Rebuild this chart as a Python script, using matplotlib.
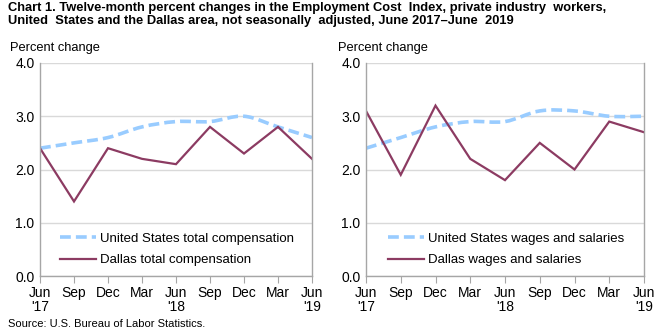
import matplotlib
matplotlib.use("Agg")
import matplotlib.pyplot as plt
from matplotlib.path import Path
from matplotlib.patches import PathPatch
from matplotlib.lines import Line2D
import numpy as np

plt.rcParams['font.family'] = ['Liberation Sans', 'DejaVu Sans']

months = ["Jun\n'17", "Sep", "Dec", "Mar", "Jun\n'18", "Sep", "Dec", "Mar", "Jun\n'19"]
us_total = [2.4, 2.5, 2.6, 2.8, 2.9, 2.9, 3.0, 2.8, 2.6]
dallas_total = [2.4, 1.4, 2.4, 2.2, 2.1, 2.8, 2.3, 2.8, 2.2]
us_wages = [2.4, 2.6, 2.8, 2.9, 2.9, 3.1, 3.1, 3.0, 3.0]
dallas_wages = [3.1, 1.9, 3.2, 2.2, 1.8, 2.5, 2.0, 2.9, 2.7]

US_COLOR = '#99CCFF'
DAL_COLOR = '#8C3B62'
GRID = '#D9D9D9'
SPINE = '#A6A6A6'


def smooth_path(xs, ys):
    pts = np.column_stack([xs, ys]).astype(float)
    n = len(pts)
    verts = [pts[0]]
    codes = [Path.MOVETO]
    for i in range(n - 1):
        p0 = pts[i - 1] if i > 0 else pts[i]
        p1 = pts[i]
        p2 = pts[i + 1]
        p3 = pts[i + 2] if i + 2 < n else pts[i + 1]
        c1 = p1 + (p2 - p0) / 6.0
        c2 = p2 - (p3 - p1) / 6.0
        verts += [c1, c2, p2]
        codes += [Path.CURVE4] * 3
    return Path(verts, codes)


fig = plt.figure(figsize=(6.65, 3.35), dpi=100)

fig.text(8 / 665, 1 - 2 / 335,
         "Chart 1. Twelve-month percent changes in the Employment Cost  Index, private industry  workers,\n"
         "United  States and the Dallas area, not seasonally  adjusted, June 2017\u2013June  2019",
         ha='left', va='top', fontsize=9.3, fontweight='bold',
         family=['Liberation Sans Narrow', 'Liberation Sans', 'DejaVu Sans'],
         linespacing=1.15)

panels = [
    (40, 272, us_total, dallas_total, "United States total compensation", "Dallas total compensation", 10, 60),
    (366, 278, us_wages, dallas_wages, "United States wages and salaries", "Dallas wages and salaries", 338, 388),
]

for left, width, us, dal, us_lab, dal_lab, pc_x, leg_x in panels:
    ax = fig.add_axes([left / 665, (335 - 276) / 335, width / 665, 213 / 335])
    x = np.arange(len(months))
    ax.set_xlim(0, len(months) - 1)
    ax.set_ylim(0, 4.0)
    ax.set_yticks([0, 1, 2, 3, 4])
    ax.set_yticklabels(["0.0", "1.0", "2.0", "3.0", "4.0"], fontsize=10)
    ax.set_xticks(x)
    ax.set_xticklabels(months, fontsize=10, linespacing=1.0)
    ax.grid(axis='y', color=GRID, linewidth=1.0)
    ax.set_axisbelow(True)
    ax.spines['top'].set_visible(False)
    for s in ['left', 'right', 'bottom']:
        ax.spines[s].set_color(SPINE)
        ax.spines[s].set_linewidth(1.0)
    ax.tick_params(axis='y', length=0, pad=4)
    ax.tick_params(axis='x', direction='out', length=5, color=SPINE, pad=2)

    patch = PathPatch(smooth_path(x, us), fill=False, edgecolor=US_COLOR,
                      linewidth=2.6, linestyle=(0, (3.0, 1.4)), capstyle='butt')
    ax.add_patch(patch)
    ax.plot(x, dal, color=DAL_COLOR, linewidth=1.6, solid_joinstyle='miter')

    handles = [Line2D([], [], color=US_COLOR, linewidth=2.6, linestyle=(0, (3.0, 1.4))),
               Line2D([], [], color=DAL_COLOR, linewidth=1.6)]
    ax.legend(handles, [us_lab, dal_lab], loc='lower left',
              bbox_to_anchor=((leg_x - left) / width, 0.045),
              frameon=False, fontsize=9.5, handlelength=2.75, handletextpad=0.25,
              labelspacing=0.72, borderpad=0, borderaxespad=0)

    fig.text(pc_x / 665, 1 - 48 / 335, "Percent change", ha='left', va='center', fontsize=9.3)

fig.text(8 / 665, 1 - 324 / 335, "Source: U.S. Bureau of Labor Statistics.", ha='left',
         va='center', fontsize=8)

fig.savefig("out.png", dpi=100)
